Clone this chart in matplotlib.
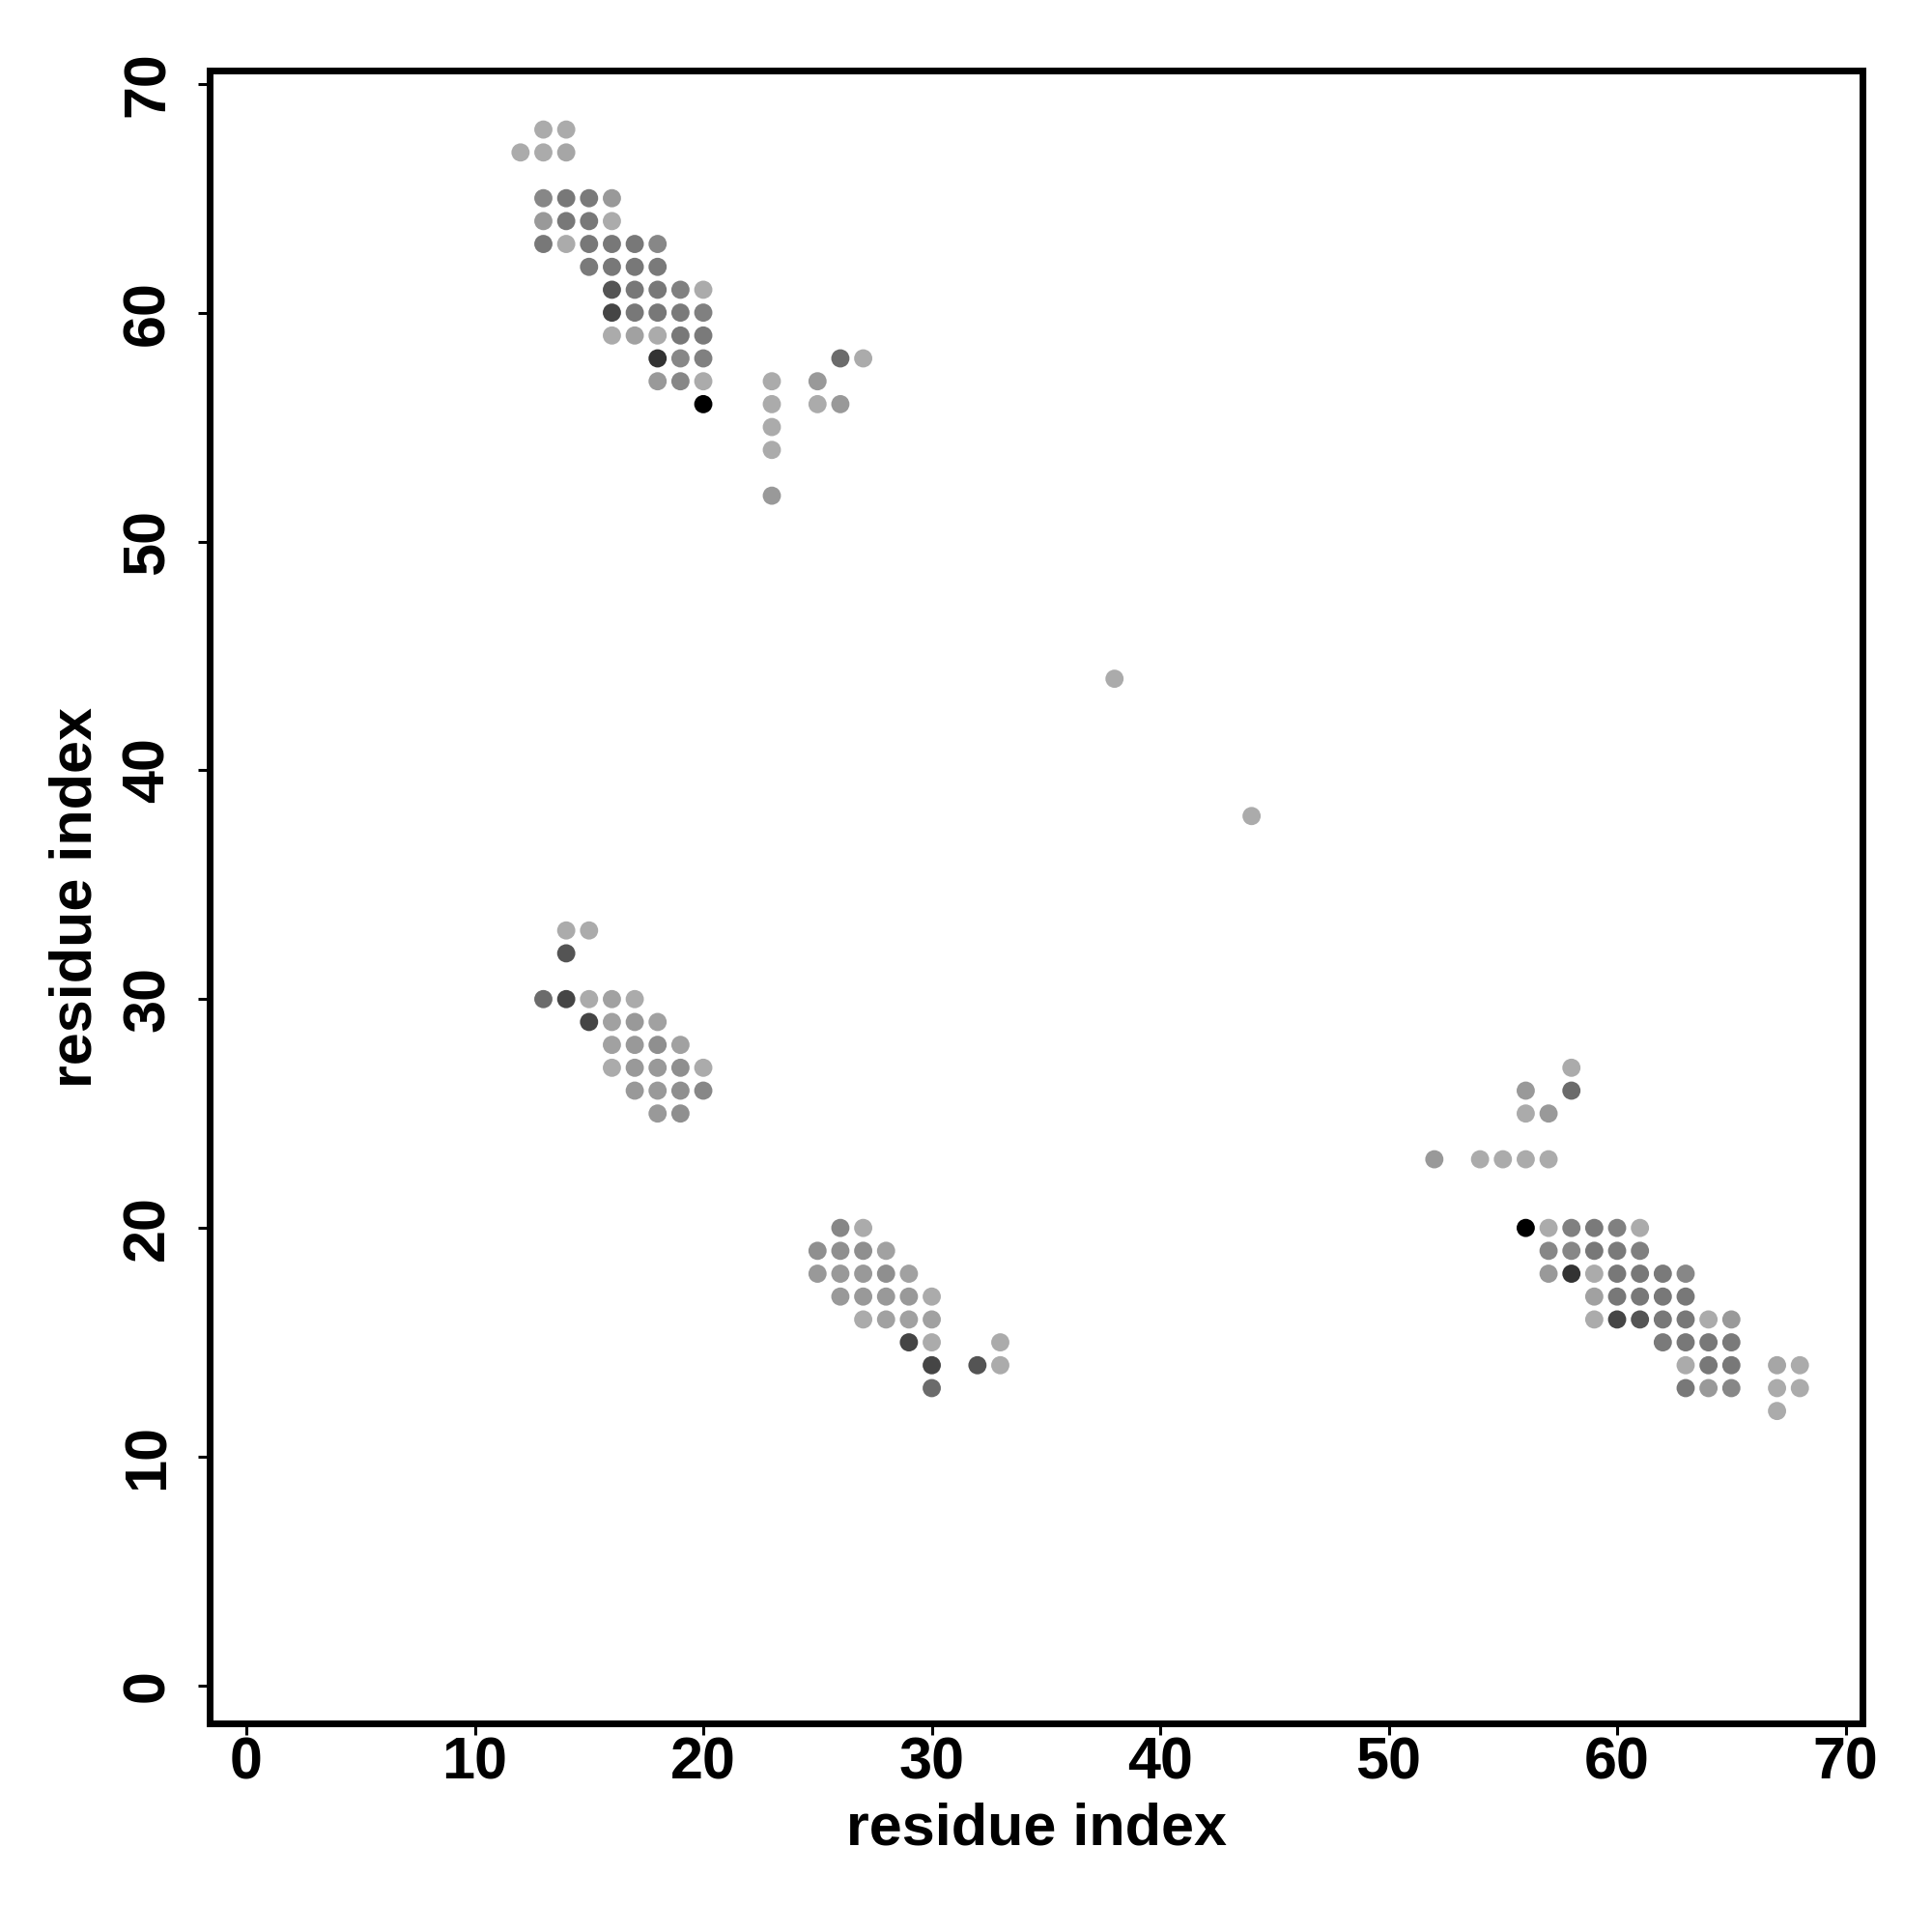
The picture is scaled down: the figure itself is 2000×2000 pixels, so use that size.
import numpy as np
import matplotlib
matplotlib.use("Agg")
import matplotlib.pyplot as plt

# contact map is symmetric: store the i < j half, mirror when plotting
res_i = [13, 14,
         12, 13, 14,
         13, 14, 15, 16,
         13, 14, 15, 16,
         13, 14, 15, 16, 17, 18,
         15, 16, 17, 18,
         16, 17, 18, 19, 20,
         16, 17, 18, 19, 20,
         16, 17, 18, 19, 20,
         18, 19, 20,
         18, 19, 20,
         20,
         26, 27, 23, 25, 23, 25, 26, 23, 23, 23,
         14, 15,
         14,
         13, 14, 15, 16, 17,
         15, 16, 17, 18,
         16, 17, 18, 19,
         16, 17, 18, 19, 20,
         17, 18, 19, 20,
         18, 19,
         38]
res_j = [68, 68,
         67, 67, 67,
         65, 65, 65, 65,
         64, 64, 64, 64,
         63, 63, 63, 63, 63, 63,
         62, 62, 62, 62,
         61, 61, 61, 61, 61,
         60, 60, 60, 60, 60,
         59, 59, 59, 59, 59,
         58, 58, 58,
         57, 57, 57,
         56,
         58, 58, 57, 57, 56, 56, 56, 55, 54, 52,
         33, 33,
         32,
         30, 30, 30, 30, 30,
         29, 29, 29, 29,
         28, 28, 28, 28,
         27, 27, 27, 27, 27,
         26, 26, 26, 26,
         25, 25,
         44]
# grey level of each dot (0 = black, 1 = white)
shade = [0.67, 0.67,
         0.67, 0.67, 0.65,
         0.53, 0.47, 0.48, 0.60,
         0.60, 0.47, 0.47, 0.67,
         0.47, 0.67, 0.47, 0.47, 0.47, 0.53,
         0.48, 0.47, 0.47, 0.48,
         0.33, 0.47, 0.47, 0.50, 0.67,
         0.27, 0.47, 0.47, 0.48, 0.50,
         0.67, 0.63, 0.67, 0.47, 0.48,
         0.20, 0.53, 0.50,
         0.60, 0.53, 0.67,
         0.00,
         0.42, 0.67, 0.67, 0.60, 0.67, 0.67, 0.60, 0.67, 0.67, 0.60,
         0.67, 0.67,
         0.33,
         0.42, 0.27, 0.67, 0.63, 0.67,
         0.27, 0.63, 0.60, 0.63,
         0.63, 0.60, 0.56, 0.63,
         0.67, 0.60, 0.60, 0.56, 0.67,
         0.60, 0.60, 0.56, 0.53,
         0.60, 0.56,
         0.67]

x = np.concatenate([res_i, res_j])
y = np.concatenate([res_j, res_i])
c = np.concatenate([shade, shade])

plt.rcParams['font.family'] = ['Liberation Sans', 'DejaVu Sans']
plt.rcParams['font.weight'] = 'bold'

fig = plt.figure(figsize=(10, 10), dpi=200)
ax = fig.add_axes([0.10825, 0.108, 0.856, 0.8555])

ax.scatter(x, y, c=c, cmap='gray', vmin=0, vmax=1, s=46, linewidths=0, zorder=3)

ax.set_xlim(-1.63, 70.76)
ax.set_ylim(-1.65, 70.58)
ax.set_xticks(range(0, 71, 10))
ax.set_yticks(range(0, 71, 10))

for sp in ax.spines.values():
    sp.set_linewidth(2.5)
ax.tick_params(direction='out', length=4.2, width=1.1, labelsize=22)
ax.tick_params(axis='x', pad=0.5)
ax.tick_params(axis='y', pad=8)
for lab in ax.get_yticklabels():
    lab.set_rotation(90)
    lab.set_va('center')
for lab in ax.get_xticklabels() + ax.get_yticklabels():
    lab.set_fontweight('bold')

ax.set_xlabel('residue index', fontsize=22, fontweight='bold', labelpad=4)
ax.set_ylabel('residue index', fontsize=22, fontweight='bold', labelpad=6.4)

fig.savefig('out.png', dpi=200, facecolor='white')
